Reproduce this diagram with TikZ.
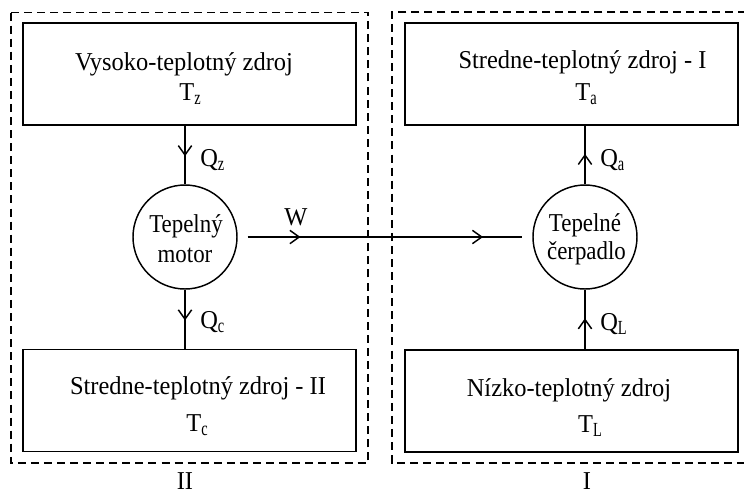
\documentclass[tikz,border=0pt]{standalone}
\usepackage{fontspec}
\setmainfont{Liberation Serif}
\newfontfamily\boxfont[FakeStretch=0.95]{Liberation Serif}
\newfontfamily\circfont[FakeStretch=0.89]{Liberation Serif}
\newfontfamily\subfont[FakeStretch=0.72]{Liberation Serif}
\usetikzlibrary{arrows.meta,decorations.markings}
\newcommand{\lowidx}[1]{\raisebox{-3pt}{\subfont\fontsize{15}{15}\selectfont #1}}
\tikzset{
  px/.style={x=0.75pt,y=-0.75pt},
  btxt/.style={inner sep=0pt,anchor=base,font=\boxfont\fontsize{19.3}{22}\selectfont},
  ctxt/.style={btxt,font=\circfont\fontsize{19.3}{22}\selectfont},
  txtw/.style={btxt,anchor=base west},
  srcbox/.style={draw,line width=1.2pt,rectangle,inner sep=0pt,minimum width=249.75pt,minimum height=76.5pt},
  machine/.style={draw,line width=1.1pt,circle,inner sep=0pt,minimum size=78pt},
  frame/.style={line width=0.9pt,dash pattern=on 6pt off 3.8pt},
  flow/.style={line width=1.1pt,decoration={markings,mark=at position 0.52 with {\arrow{Straight Barb[length=7pt,width=10pt,line width=1.1pt]}}},postaction={decorate}},
  wflow/.style={line width=1.1pt,decoration={markings,
     mark=at position 0.193 with {\arrow{Straight Barb[length=7pt,width=10pt,line width=1.1pt]}},
     mark=at position 0.858 with {\arrow{Straight Barb[length=7pt,width=10pt,line width=1.1pt]}}},postaction={decorate}}
}
\begin{document}
\begin{tikzpicture}[px]
\useasboundingbox (0,0) rectangle (744,494);
% dashed frames
\draw[frame] (11,12.5) rectangle (368,463);
\draw[frame] (746,12) -- (392,12) -- (392,463) -- (746,463);
% boxes
\node[srcbox] (bz) at (189.5,74) {};
\node[srcbox] (ba) at (571.5,74) {};
\node[srcbox] (bc) at (189.5,400.5) {};
\node[srcbox] (bl) at (571.5,401) {};
% box texts
\node[btxt] (tz1) at (184,70) {Vysoko-teplotný zdroj};
\node[btxt] (tz2) at (190,100) {T\lowidx{z}};
\node[btxt] (ta1) at (582.5,68) {Stredne-teplotný zdroj - I};
\node[btxt] (ta2) at (586,100) {T\lowidx{a}};
\node[btxt] (tc1) at (198,394) {Stredne-teplotný zdroj - II};
\node[btxt] (tc2) at (197,431.5) {T\lowidx{c}};
\node[btxt] (tl1) at (569,396) {Nízko-teplotný zdroj};
\node[btxt] (tl2) at (590,432.5) {T\lowidx{L}};
% machines
\node[machine] (mz) at (185,237) {};
\node[machine] (hp) at (585,237) {};
\node[ctxt] (m1) at (186,232.5) {Tepelný};
\node[ctxt] (m2) at (185,262.5) {motor};
\node[ctxt] (h1) at (585,231.5) {Tepelné};
\node[ctxt] (h2) at (586.5,259) {čerpadlo};
% flows
\draw[flow] (mz.north |- bz.south) -- (mz.north);
\draw[flow] (mz.south) -- (mz.south |- bc.north);
\draw[flow] (hp.north) -- (hp.north |- ba.south);
\draw[flow] (hp.south |- bl.north) -- (hp.south);
\coordinate (w1) at (247.5,237);
\coordinate (w2) at (522,237);
\draw[wflow] (w1) -- (w2);
% labels
\node[txtw] (qz) at (200,166.5) {Q\lowidx{z}};
\node[txtw] (qc) at (200,328) {Q\lowidx{c}};
\node[txtw] (qa) at (600,166.5) {Q\lowidx{a}};
\node[txtw] (ql) at (600,330) {Q\lowidx{L}};
\node[btxt] (w) at (296,225) {W};
\node[btxt] (l2) at (185,489) {II};
\node[btxt] (l1) at (587,489) {I};
\end{tikzpicture}
\end{document}
